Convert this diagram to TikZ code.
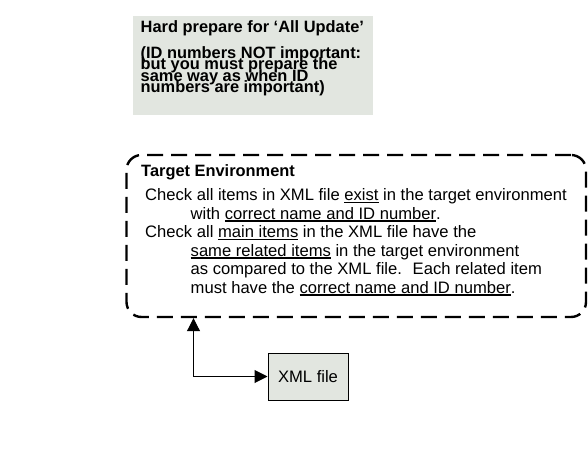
\documentclass[tikz,border=0pt]{standalone}
\usepackage{fontspec}
\setmainfont{Liberation Sans}
\usetikzlibrary{arrows.meta}
\definecolor{boxfill}{RGB}{226,230,224}
\newcommand{\myul}[1]{\sbox0{#1}\rlap{\rule[-2.6pt]{\wd0}{1.2pt}}\usebox0}
\tikzset{
  txt/.style={anchor=base west, inner sep=0pt, font=\fontsize{16.6}{18.4}\selectfont},
  btxt/.style={txt, font=\fontsize{16.4}{18.4}\selectfont\bfseries},
  greybox/.style={draw=none, fill=boxfill, inner sep=0pt},
  envbox/.style={draw, line width=2.4pt, dash pattern=on 16pt off 8pt, rounded corners=15pt, inner sep=0pt},
  xmlbox/.style={draw, line width=1pt, fill=boxfill, inner sep=0pt, font=\fontsize{16.6}{18.4}\selectfont},
  arr/.style={line width=1pt, arrows={Triangle[length=13pt, width=13pt]-Triangle[length=13pt, width=13pt]}}
}
\begin{document}
\begin{tikzpicture}[x=1pt, y=-1pt]
\useasboundingbox (0,0) rectangle (588,460);
% top note
\node[greybox, minimum width=240pt, minimum height=99pt] (prep) at (253,65.5) {};
\node[btxt] (p0) at (140.5,32.5) {Hard prepare for ‘All Update’};
\node[btxt] (p1) at (140.5,58.5) {(ID numbers NOT important:};
\node[btxt] (p2) at (140.5,70) {but you must prepare the};
\node[btxt] (p3) at (140.5,81.3) {same way as when ID};
\node[btxt] (p4) at (140.5,92.7) {numbers are important)};
% target environment
\node[envbox, minimum width=459.5pt, minimum height=162pt] (env) at (356.25,236) {};
\node[btxt] (t0) at (141,176) {Target Environment};
\node[txt] (t1) at (145,200.5) {Check all items in XML file \myul{exist} in the target environment};
\node[txt] (t2) at (190.5,219) {with \myul{correct name and ID number}.};
\node[txt] (t3) at (145,237.5) {Check all \myul{main items} in the XML file have the};
\node[txt] (t4) at (190.5,256) {\myul{same related items} in the target environment};
\node[txt] (t5) at (190.5,274.5) {as compared to the XML file.~ Each related item};
\node[txt] (t6) at (190.5,293) {must have the \myul{correct name and ID number}.};
% xml file
\node[xmlbox, minimum width=80pt, minimum height=47pt] (xml) at (308,376.5) {XML file};
\coordinate (turn) at (193.5,376.5);
\draw[arr] (xml.west) -- (turn) -- (turn |- env.south);
\end{tikzpicture}
\end{document}
